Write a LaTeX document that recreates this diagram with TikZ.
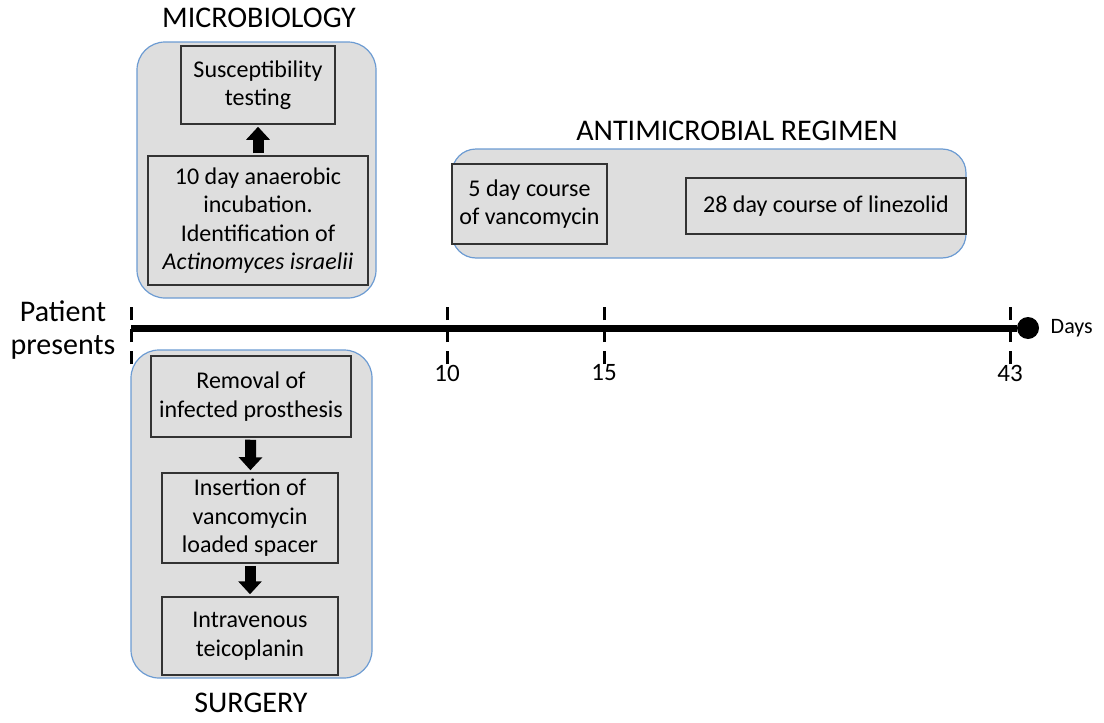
\documentclass[tikz,border=0pt]{standalone}
\usepackage{fontspec}
\setmainfont{Carlito}
\usepackage{tikz}
\usetikzlibrary{arrows.meta,positioning}
\definecolor{boxgray}{HTML}{DEDEDE}
\definecolor{grpblue}{HTML}{6C9BD2}

\begin{document}
\begin{tikzpicture}[x=1pt,y=-1pt,
	group node/.style={draw=grpblue, line width=1.2pt, fill=boxgray, rounded corners=28pt, inner sep=0pt},
	main node/.style={draw=black!80, line width=1.5pt, fill=boxgray, align=center, inner sep=0pt, font=\fontsize{24}{28.5}\selectfont},
	title node/.style={font=\fontsize{30}{34}\selectfont},
	tick/.style={line width=3pt, dash pattern=on 13pt off 9pt},
	block arrow/.style={line width=11pt, -{Triangle[length=13pt,width=23pt]}, shorten <=2pt, shorten >=2pt}]
			\useasboundingbox (0,0) rectangle (1104,723);
			
			% microbiology
			\node[group node, minimum width=239pt, minimum height=256pt] (micro) at (256.5,170) {};
			\node[title node] (microtitle) at (259,18) {MICROBIOLOGY};
			\node[main node, minimum width=154pt, minimum height=78pt] (susc) at (258,85) {Susceptibility\\testing};
			\node[main node, minimum width=220pt, minimum height=129pt] (tenday) at (258,220.5) {10 day anaerobic\\incubation.\\Identification of\\\textit{Actinomyces israelii}};
			
			% antimicrobial regimen
			\node[group node, rounded corners=24pt, minimum width=514pt, minimum height=109pt] (regimen) at (709,203.5) {};
			\node[title node] (regtitle) at (737,131) {ANTIMICROBIAL REGIMEN};
			\node[main node, minimum width=155pt, minimum height=80pt] (vanco) at (529.5,204) {5 day course\\of vancomycin};
			\node[main node, minimum width=280pt, minimum height=56pt] (linez) at (826,206) {28 day course of linezolid};
			
			% surgery
			\node[group node, minimum width=241pt, minimum height=328pt] (surg) at (251.5,514) {};
			\node[title node] (surgtitle) at (251,703) {SURGERY};
			\node[main node, minimum width=200pt, minimum height=81pt] (removal) at (251,396.5) {Removal of\\infected prosthesis};
			\node[main node, minimum width=176pt, minimum height=90pt] (spacer) at (250,518) {Insertion of\\vancomycin\\loaded spacer};
			\node[main node, minimum width=176pt, minimum height=78pt] (iv) at (250,636) {Intravenous\\teicoplanin};
			
			\draw[block arrow] (tenday) -- (susc);
			\draw[block arrow] (removal) -- (spacer);
			\draw[block arrow] (spacer) -- (iv);
			
			% timeline
			\coordinate (t0) at (131,328);
			\node[circle, fill=black, minimum size=22pt, inner sep=0pt] (dot) at (1028,328) {};
			\draw[line width=7pt] (t0) -- (dot);
			\coordinate (t10) at (447,328);
			\coordinate (t15) at (604,328);
			\coordinate (t43) at (1010,328);
			\foreach \t in {t0,t10,t15,t43}
				\draw[tick] ([yshift=-36pt]\t) -- ([yshift=27pt]\t);
			
			\node[font=\fontsize{30}{33}\selectfont, align=center] (patient) at (63,330) {Patient\\presents};
			\node[font=\fontsize{22}{24}\selectfont, right=8pt of dot] (days) {Days};
			\node[font=\fontsize{25}{28}\selectfont] (l10) at (447,373) {10};
			\node[font=\fontsize{25}{28}\selectfont] (l15) at (604,373) {15};
			\node[font=\fontsize{25}{28}\selectfont] (l43) at (1010,373) {43};
			
			\end{tikzpicture}
\end{document}
